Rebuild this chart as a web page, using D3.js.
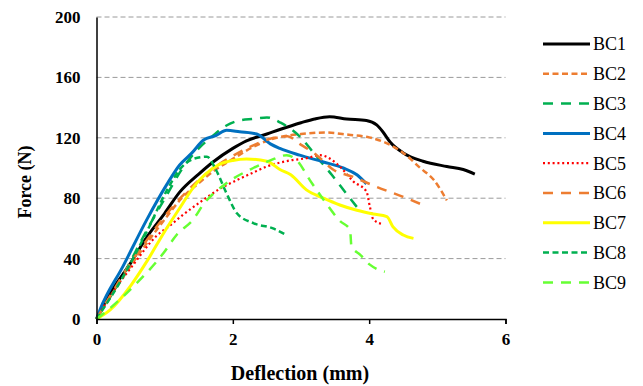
<!DOCTYPE html>
<html>
<head>
<meta charset="utf-8">
<script src="https://cdn.jsdelivr.net/npm/d3@7"></script>
<style>
  body { margin: 0; background: #fff; }
  svg { display: block; }
  svg text { font-family: "Liberation Serif", "Times New Roman", serif; fill: #000; }
</style>
</head>
<body>
<figure style="margin:0"></figure>
<script>
// series names and data: [deflection mm, force N]
const seriesNames = ["BC1", "BC2", "BC3", "BC4", "BC5", "BC6", "BC7", "BC8", "BC9"];

const bc1 = [[0,0],[0.2,17],[0.5,37],[0.75,55],[1,70],[1.22,84],[1.5,96],[1.71,104],[2,113],[2.2,118],[2.5,122.5],[2.69,125.5],[3,130],[3.2,132.5],[3.42,134],[3.67,132.5],[3.96,131.5],[4.11,128.5],[4.2,124],[4.31,117],[4.5,110],[4.79,104.5],[5.14,101],[5.38,99],[5.55,96]];
const bc2 = [[0,0],[0.25,18],[0.5,35],[0.75,51],[1,66],[1.25,80],[1.5,90],[1.75,99],[2,106],[2.3,114],[2.6,119.5],[3,122.5],[3.35,123.5],[3.7,122],[4,120.3],[4.2,117.5],[4.5,110],[4.75,100],[4.95,92],[5.14,78.5]];
const bc3 = [[0,0],[0.39,29],[0.74,59],[1.03,82],[1.25,99],[1.5,113],[1.7,121],[1.9,128],[2.1,131.5],[2.3,132.5],[2.5,133.5],[2.7,130],[2.98,121],[3.22,108],[3.46,95],[3.7,81],[3.85,72.5]];
const bc4 = [[0,0],[0.05,6],[0.39,35],[0.74,66],[1.03,89],[1.22,102],[1.4,110],[1.57,118.5],[1.75,121.5],[1.91,125],[2.1,124],[2.35,122.5],[2.55,116],[2.69,113],[2.98,108.5],[3.33,104],[3.62,100],[3.82,95.5],[3.96,89.5]];
const bc5 = [[0,0],[0.2,15],[0.54,36],[0.88,55],[1.08,62],[1.27,69],[1.57,79],[1.8,86],[2.06,92],[2.3,97],[2.5,101],[2.84,105],[3.08,106.5],[3.28,108.5],[3.57,101],[3.77,91],[3.96,84.5],[4.01,74.5],[4.06,66],[4.18,63]];
const bc6 = [[0,0],[0.25,19],[0.5,37],[0.75,53],[1,68],[1.25,81],[1.5,92],[1.75,101],[2,108],[2.3,115],[2.6,120],[2.8,121],[2.98,116],[3.23,108.5],[3.47,99],[3.77,94],[4.11,87.5],[4.55,80],[4.84,74.5]];
const bc7 = [[0,0],[0.2,6],[0.5,22],[0.75,39],[1,58],[1.2,72],[1.47,90],[1.6,96],[1.81,102.5],[2,105],[2.2,106],[2.5,104.5],[2.69,99],[2.85,95.5],[3.08,85.5],[3.33,80],[3.57,75.5],[3.82,72],[4.06,69.5],[4.26,67.8],[4.35,61],[4.5,55.6],[4.65,53.4]];
const bc8 = [[0,0],[0.39,28],[0.74,58],[1.03,85],[1.22,99],[1.42,106],[1.62,107.5],[1.75,99],[1.91,83],[2.06,70],[2.3,63.5],[2.59,60],[2.79,55.5]];
const bc9 = [[0,0],[0.1,3.5],[0.54,21.5],[0.98,43.5],[1.18,56],[1.42,66],[1.57,76],[1.91,90],[2.3,100],[2.55,105],[2.79,108.5],[2.94,105],[3.13,92],[3.33,79],[3.57,65],[3.72,59],[3.74,48],[3.87,42.5],[4.01,36],[4.23,31.3]];

const xTicks = [0, 2, 4, 6];
const yTicks = [0, 40, 80, 120, 160, 200];

const seriesData = [bc1, bc2, bc3, bc4, bc5, bc6, bc7, bc8, bc9];
const styles = [
  { color: "#000000", width: 3, dash: null },
  { color: "#ED7D31", width: 2.5, dash: "6,3.5" },
  { color: "#00B050", width: 2.5, dash: "10,8" },
  { color: "#0070C0", width: 3, dash: null },
  { color: "#FF0000", width: 2.2, dash: "2,2.8" },
  { color: "#ED7D31", width: 2.5, dash: "10,8" },
  { color: "#FFFF00", width: 3, dash: null },
  { color: "#00B050", width: 2.5, dash: "6,3.5" },
  { color: "#66FF33", width: 2.5, dash: "10,8" }
];

const width = 643, height = 386;
const plotLeft = 96.5, plotRight = 505.5, plotTop = 17, plotBottom = 319;

const svg = d3.select("figure").append("svg")
  .attr("width", width)
  .attr("height", height);

const x = d3.scaleLinear().domain([0, 6]).range([plotLeft, plotRight]);
const y = d3.scaleLinear().domain([0, 200]).range([plotBottom, plotTop]);

// gridlines
svg.append("g")
  .selectAll("line")
  .data(yTicks.filter(d => d > 0))
  .enter()
  .append("line")
  .attr("x1", plotLeft).attr("x2", plotRight)
  .attr("y1", d => y(d)).attr("y2", d => y(d))
  .attr("stroke", "#9a9a9a")
  .attr("stroke-width", 1)
  .attr("stroke-dasharray", "5,3");

// curves
const line = d3.line()
  .x(d => x(d[0]))
  .y(d => y(d[1]))
  .curve(d3.curveMonotoneX);

svg.append("g")
  .selectAll("path")
  .data(seriesData)
  .enter()
  .append("path")
  .attr("d", d => line(d))
  .attr("fill", "none")
  .attr("stroke", (d, i) => styles[i].color)
  .attr("stroke-width", (d, i) => styles[i].width)
  .attr("stroke-dasharray", (d, i) => styles[i].dash)
  .attr("stroke-linejoin", "round");

// x axis
const xAxis = svg.append("g")
  .attr("transform", "translate(0," + plotBottom + ")")
  .call(d3.axisBottom(x).tickValues(xTicks).tickFormat(d3.format("d")).tickSize(5).tickPadding(9));
xAxis.select(".domain").attr("stroke", "#000").attr("stroke-width", 1.5);
xAxis.selectAll(".tick line").attr("stroke", "#000").attr("stroke-width", 1.5);
xAxis.selectAll("text")
  .attr("fill", "#000")
  .style("font-family", "Liberation Serif")
  .style("font-size", "17px")
  .style("font-weight", "bold");

// y axis
const yAxis = svg.append("g")
  .attr("transform", "translate(" + plotLeft + ",0)")
  .call(d3.axisLeft(y).tickValues(yTicks).tickSize(0).tickPadding(16));
yAxis.select(".domain").attr("stroke", "#000").attr("stroke-width", 1.5);
yAxis.selectAll("text")
  .attr("fill", "#000")
  .style("font-family", "Liberation Serif")
  .style("font-size", "17px")
  .style("font-weight", "bold");

// axis titles
svg.append("text")
  .attr("x", (plotLeft + plotRight) / 2 - 1)
  .attr("y", 380)
  .attr("text-anchor", "middle")
  .style("font-size", "20px")
  .style("font-weight", "bold")
  .text("Deflection (mm)");

svg.append("text")
  .attr("transform", "translate(31," + 182 + ") rotate(-90)")
  .attr("text-anchor", "middle")
  .style("font-size", "18px")
  .style("font-weight", "bold")
  .text("Force (N)");

// legend
const legend = svg.append("g")
  .selectAll("g")
  .data(seriesNames)
  .enter()
  .append("g")
  .attr("transform", (d, i) => "translate(543," + (44 + i * 29.8) + ")");

legend.append("line")
  .attr("x1", 0).attr("x2", 47)
  .attr("stroke", (d, i) => styles[i].color)
  .attr("stroke-width", (d, i) => styles[i].width)
  .attr("stroke-dasharray", (d, i) => styles[i].dash);

legend.append("text")
  .attr("x", 50)
  .attr("dy", "0.35em")
  .style("font-size", "18px")
  .text(d => d);
</script>
</body>
</html>
